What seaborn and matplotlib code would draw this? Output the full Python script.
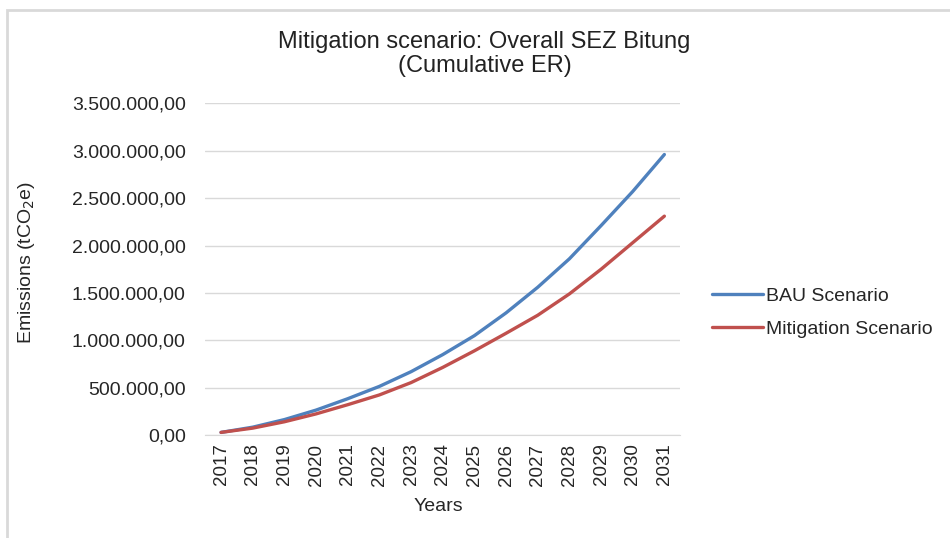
import seaborn as sns
import matplotlib.pyplot as plt
import matplotlib.ticker as mticker
import pandas as pd

years = list(range(2017, 2032))
bau = [30000, 85000, 165000, 265000, 385000, 515000, 670000, 850000,
       1050000, 1290000, 1560000, 1860000, 2210000, 2570000, 2960000]
mitigation = [30000, 75000, 142000, 225000, 322000, 425000, 555000, 715000,
              890000, 1075000, 1265000, 1490000, 1750000, 2030000, 2310000]
series_names = ['BAU Scenario', 'Mitigation Scenario']

df = pd.DataFrame({
    'Years': years * 2,
    'Emissions': bau + mitigation,
    'Scenario': [series_names[0]] * len(years) + [series_names[1]] * len(years),
})

sns.set_style('white')
plt.rcParams['font.family'] = ['Liberation Sans', 'DejaVu Sans']

fig = plt.figure(figsize=(9.5, 5.38), dpi=100)
ax = fig.add_axes([0.216, 0.191, 0.5, 0.617])

sns.lineplot(data=df, x='Years', y='Emissions', hue='Scenario',
             palette=['#4F81BD', '#C0504D'], linewidth=2.4, ax=ax)

# excel-ish styling
ax.set_ylim(0, 3500000)
ax.set_xlim(2016.5, 2031.5)
ax.set_yticks(range(0, 3500001, 500000))
ax.set_xticks(years)
ax.set_xticklabels([str(y) for y in years], rotation=90, fontsize=13.5)
ax.yaxis.set_major_formatter(mticker.FuncFormatter(
    lambda v, p: '{:,.2f}'.format(v).replace(',', 'X').replace('.', ',').replace('X', '.')))
ax.tick_params(axis='y', labelsize=14, length=0, pad=14)
ax.tick_params(axis='x', length=0, pad=6)
ax.grid(axis='y', color='#D9D9D9', linewidth=1)
for s in ['top', 'right', 'left']:
    ax.spines[s].set_visible(False)
ax.spines['bottom'].set_color('#D9D9D9')

ax.set_xlabel('Years', fontsize=14)
ax.xaxis.set_label_coords(0.49, -0.19)
ax.set_ylabel('Emissions (tCO$_2$e)', fontsize=14)
ax.yaxis.set_label_coords(-0.354, 0.52)
fig.text(0.51, 0.899, 'Mitigation scenario: Overall SEZ Bitung\n(Cumulative ER)',
         ha='center', va='center', fontsize=17, color='#222222', linespacing=1.1)

ax.legend(title=None, frameon=False, fontsize=14, loc='center left',
          bbox_to_anchor=(1.03, 0.37), handlelength=2.6, handletextpad=0.2,
          labelspacing=0.8)

# chart frame border
fig.patches.append(plt.Rectangle((0.007, -0.05), 1.1, 1.032, transform=fig.transFigure,
                                 fill=False, edgecolor='#D9D9D9', linewidth=2))

plt.savefig('out.png', dpi=100)
